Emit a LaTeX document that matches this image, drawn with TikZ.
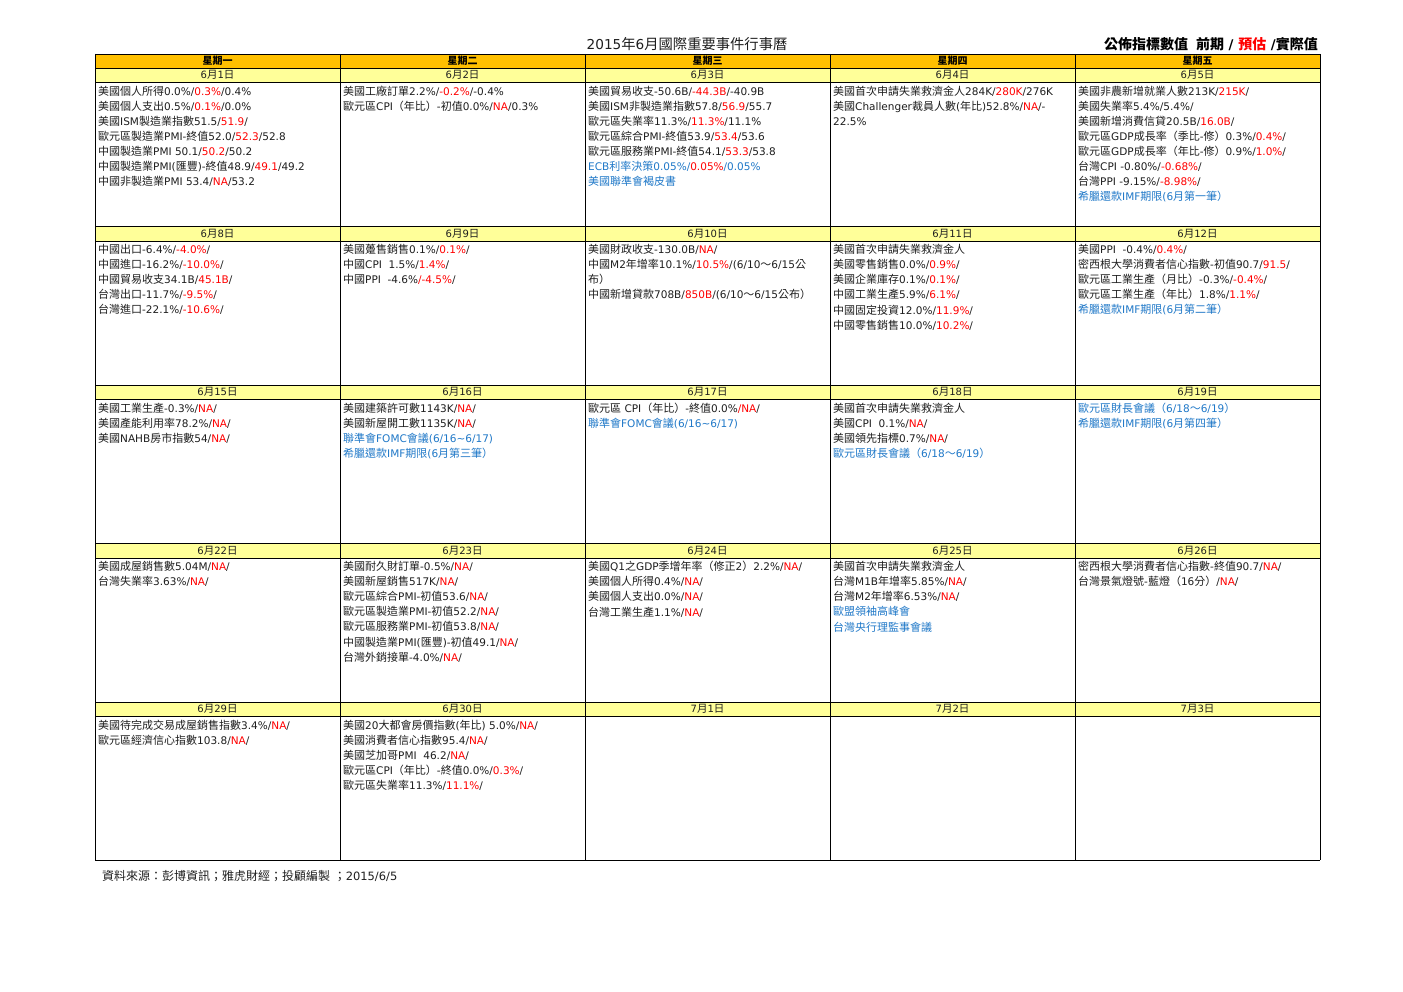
\documentclass[tikz,border=0pt]{standalone}
\usepackage{fontspec}
\setmainfont{DejaVu Sans}[Scale=0.955]
\newfontfamily\cjkfont{Noto Sans CJK TC}
\newfontfamily\latinfont{DejaVu Sans}[Scale=0.955]
\XeTeXinterchartokenstate=1
\newXeTeXintercharclass\HanCls
\newcount\hancode
\hancode="2E80
\loop
  \XeTeXcharclass\hancode=\HanCls
  \advance\hancode by 1
\ifnum\hancode<"A000 \repeat
\hancode="FF00
\loop
  \XeTeXcharclass\hancode=\HanCls
  \advance\hancode by 1
\ifnum\hancode<"FFF0 \repeat
\XeTeXinterchartoks 0 \HanCls = {\cjkfont}
\XeTeXinterchartoks 4095 \HanCls = {\cjkfont}
\XeTeXinterchartoks \HanCls 0 = {\latinfont}
\XeTeXinterchartoks \HanCls 4095 = {\latinfont}
\usetikzlibrary{calc}
\definecolor{WeekClr}{RGB}{255,192,0}
\definecolor{DayClr}{RGB}{255,255,153}
\definecolor{EstClr}{RGB}{255,0,0}
\definecolor{EvtClr}{RGB}{31,120,200}
\definecolor{TextClr}{RGB}{30,30,30}
\newcommand{\Est}[1]{\textcolor{EstClr}{#1}}
\newcommand{\Evt}[1]{\textcolor{EvtClr}{#1}}
\newcommand{\tld}{\textasciitilde}

\begin{document}
\begin{tikzpicture}[x=1pt,y=-1pt,
  gridln/.style={line width=0.9pt,color=black},
  weeklbl/.style={font=\fontsize{10}{12}\selectfont\bfseries,text=black,inner sep=0pt},
  daylbl/.style={font=\fontsize{10.5}{12}\selectfont,text=TextClr,inner sep=0pt},
  cell/.style={anchor=north west,align=left,inner sep=0pt,text=TextClr,
    font=\fontsize{11}{15.1}\selectfont}]
\useasboundingbox[fill=white] (0,0) rectangle (1403,992);

\fill[WeekClr] (95,54) rectangle (1320,68);
\foreach \r in {0,...,4}
  \fill[DayClr] (95,{68+158.5*\r}) rectangle (1320,{82.5+158.5*\r});

\foreach \x in {95,340,585,830,1075,1320}
  \draw[gridln] (\x,54) -- (\x,860);
\draw[gridln] (95,54) -- (1320,54);
\foreach \r in {0,...,4}{
  \draw[gridln] (95,{68+158.5*\r}) -- (1320,{68+158.5*\r});
  \draw[gridln] (95,{82.5+158.5*\r}) -- (1320,{82.5+158.5*\r});
}
\draw[gridln] (95,860) -- (1320,860);

\node[font=\fontsize{14.3}{16}\selectfont,text=TextClr,inner sep=0pt] (title) at (687,44) {2015年6月國際重要事件行事曆};
\node[anchor=east,font=\fontsize{14}{16}\selectfont\bfseries,text=black,inner sep=0pt] (legend) at (1318,44)
  {公佈指標數值\hspace{0.6em}前期 / \Est{預估} /實際值};

\foreach \d [count=\i from 0] in {一,二,三,四,五}
  \node[weeklbl] (w\i) at ({217.5+245*\i},61) {星期\d};

\foreach \dt [count=\k from 0] in {6月1日,6月2日,6月3日,6月4日,6月5日,
    6月8日,6月9日,6月10日,6月11日,6月12日,
    6月15日,6月16日,6月17日,6月18日,6月19日,
    6月22日,6月23日,6月24日,6月25日,6月26日,
    6月29日,6月30日,7月1日,7月2日,7月3日}{
  \pgfmathtruncatemacro{\col}{mod(\k,5)}
  \pgfmathtruncatemacro{\row}{int(\k/5)}
  \node[daylbl] (d\k) at ({217.5+245*\col},{75.25+158.5*\row}) {\dt};
}

\node[cell] (c0) at (98,85.6) {美國個人所得0.0\%/\Est{0.3\%}/0.4\%\\
  美國個人支出0.5\%/\Est{0.1\%}/0.0\%\\
  美國ISM製造業指數51.5/\Est{51.9}/\\
  歐元區製造業PMI-終值52.0/\Est{52.3}/52.8\\
  中國製造業PMI 50.1/\Est{50.2}/50.2\\
  中國製造業PMI(匯豐)-終值48.9/\Est{49.1}/49.2\\
  中國非製造業PMI 53.4/\Est{NA}/53.2};
\node[cell] (c1) at (343,85.6) {美國工廠訂單2.2\%/\Est{-0.2\%}/-0.4\%\\
  歐元區CPI（年比）-初值0.0\%/\Est{NA}/0.3\%};
\node[cell] (c2) at (588,85.6) {美國貿易收支-50.6B/\Est{-44.3B}/-40.9B\\
  美國ISM非製造業指數57.8/\Est{56.9}/55.7\\
  歐元區失業率11.3\%/\Est{11.3\%}/11.1\%\\
  歐元區綜合PMI-終值53.9/\Est{53.4}/53.6\\
  歐元區服務業PMI-終值54.1/\Est{53.3}/53.8\\
  \Evt{ECB利率決策0.05\%/}\Est{0.05\%}\Evt{/0.05\%}\\
  \Evt{美國聯準會褐皮書}};
\node[cell] (c3) at (833,85.6) {美國首次申請失業救濟金人284K/\Est{280K}/276K\\
  美國Challenger裁員人數(年比)52.8\%/\Est{NA}/-\\
  22.5\%};
\node[cell] (c4) at (1078,85.6) {美國非農新增就業人數213K/\Est{215K}/\\
  美國失業率5.4\%/5.4\%/\\
  美國新增消費信貸20.5B/\Est{16.0B}/\\
  歐元區GDP成長率（季比-修）0.3\%/\Est{0.4\%}/\\
  歐元區GDP成長率（年比-修）0.9\%/\Est{1.0\%}/\\
  台灣CPI -0.80\%/\Est{-0.68\%}/\\
  台灣PPI -9.15\%/\Est{-8.98\%}/\\
  \Evt{希臘還款IMF期限(6月第一筆）}};

\node[cell] (c5) at (98,244.1) {中國出口-6.4\%/\Est{-4.0\%}/\\
  中國進口-16.2\%/\Est{-10.0\%}/\\
  中國貿易收支34.1B/\Est{45.1B}/\\
  台灣出口-11.7\%/\Est{-9.5\%}/\\
  台灣進口-22.1\%/\Est{-10.6\%}/};
\node[cell] (c6) at (343,244.1) {美國躉售銷售0.1\%/\Est{0.1\%}/\\
  中國CPI\ \ 1.5\%/\Est{1.4\%}/\\
  中國PPI\ \ -4.6\%\Est{/-4.5\%}/};
\node[cell] (c7) at (588,244.1) {美國財政收支-130.0B/\Est{NA}/\\
  中國M2年增率10.1\%/\Est{10.5\%}/(6/10～6/15公\\
  布）\\
  中國新增貸款708B/\Est{850B}/(6/10～6/15公布）};
\node[cell] (c8) at (833,244.1) {美國首次申請失業救濟金人\\
  美國零售銷售0.0\%/\Est{0.9\%}/\\
  美國企業庫存0.1\%/\Est{0.1\%}/\\
  中國工業生產5.9\%/\Est{6.1\%}/\\
  中國固定投資12.0\%/\Est{11.9\%}/\\
  中國零售銷售10.0\%/\Est{10.2\%}/};
\node[cell] (c9) at (1078,244.1) {美國PPI\ \ -0.4\%/\Est{0.4\%}/\\
  密西根大學消費者信心指數-初值90.7/\Est{91.5}/\\
  歐元區工業生產（月比）-0.3\%/\Est{-0.4\%}/\\
  歐元區工業生產（年比）1.8\%/\Est{1.1\%}/\\
  \Evt{希臘還款IMF期限(6月第二筆）}};

\node[cell] (c10) at (98,402.6) {美國工業生產-0.3\%/\Est{NA}/\\
  美國產能利用率78.2\%/\Est{NA}/\\
  美國NAHB房市指數54/\Est{NA}/};
\node[cell] (c11) at (343,402.6) {美國建築許可數1143K/\Est{NA}/\\
  美國新屋開工數1135K/\Est{NA}/\\
  \Evt{聯準會FOMC會議(6/16\tld6/17)}\\
  \Evt{希臘還款IMF期限(6月第三筆）}};
\node[cell] (c12) at (588,402.6) {歐元區 CPI（年比）-終值0.0\%\Est{/NA}/\\
  \Evt{聯準會FOMC會議(6/16\tld6/17)}};
\node[cell] (c13) at (833,402.6) {美國首次申請失業救濟金人\\
  美國CPI\ \ 0.1\%/\Est{NA}/\\
  美國領先指標0.7\%/\Est{NA}/\\
  \Evt{歐元區財長會議（6/18～6/19）}};
\node[cell] (c14) at (1078,402.6) {\Evt{歐元區財長會議（6/18～6/19）}\\
  \Evt{希臘還款IMF期限(6月第四筆）}};

\node[cell] (c15) at (98,561.1) {美國成屋銷售數5.04M/\Est{NA}/\\
  台灣失業率3.63\%/\Est{NA}/};
\node[cell] (c16) at (343,561.1) {美國耐久財訂單-0.5\%/\Est{NA}/\\
  美國新屋銷售517K/\Est{NA}/\\
  歐元區綜合PMI-初值53.6/\Est{NA}/\\
  歐元區製造業PMI-初值52.2/\Est{NA}/\\
  歐元區服務業PMI-初值53.8/\Est{NA}/\\
  中國製造業PMI(匯豐)-初值49.1/\Est{NA}/\\
  台灣外銷接單-4.0\%/\Est{NA}/};
\node[cell] (c17) at (588,561.1) {美國Q1之GDP季增年率（修正2）2.2\%/\Est{NA}/\\
  美國個人所得0.4\%/\Est{NA}/\\
  美國個人支出0.0\%/\Est{NA}/\\
  台灣工業生產1.1\%/\Est{NA}/};
\node[cell] (c18) at (833,561.1) {美國首次申請失業救濟金人\\
  台灣M1B年增率5.85\%/\Est{NA}/\\
  台灣M2年增率6.53\%/\Est{NA}/\\
  \Evt{歐盟領袖高峰會}\\
  \Evt{台灣央行理監事會議}};
\node[cell] (c19) at (1078,561.1) {密西根大學消費者信心指數-終值90.7/\Est{NA}/\\
  台灣景氣燈號-藍燈（16分）/\Est{NA}/};

\node[cell] (c20) at (98,719.6) {美國待完成交易成屋銷售指數3.4\%/\Est{NA}/\\
  歐元區經濟信心指數103.8/\Est{NA}/};
\node[cell] (c21) at (343,719.6) {美國20大都會房價指數(年比) 5.0\%/\Est{NA}/\\
  美國消費者信心指數95.4/\Est{NA}/\\
  美國芝加哥PMI\ \ 46.2/\Est{NA}/\\
  歐元區CPI（年比）-終值0.0\%/\Est{0.3\%}/\\
  歐元區失業率11.3\%/\Est{11.1\%}/};

\node[anchor=west,font=\fontsize{12}{14}\selectfont,text=TextClr,inner sep=0pt] (source) at (102,876)
  {資料來源：彭博資訊；雅虎財經；投顧編製 ；2015/6/5};
\end{tikzpicture}
\end{document}
